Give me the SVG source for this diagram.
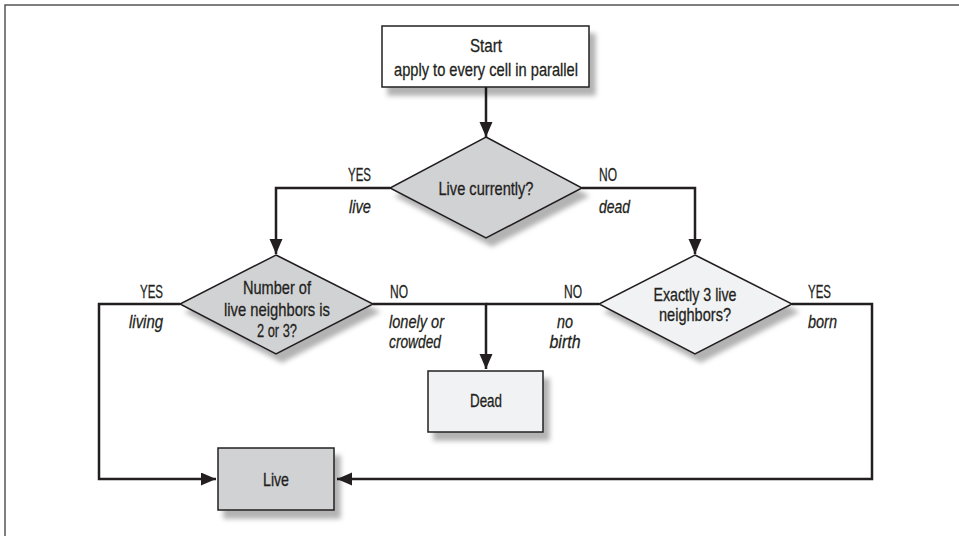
<svg xmlns="http://www.w3.org/2000/svg" width="959" height="536" viewBox="0 0 959 536">
<defs>
<style>
text{font-family:"Liberation Sans",Arial,sans-serif;font-size:18.5px;fill:#231f20;stroke:#231f20;stroke-width:0.3}
.c{text-anchor:middle}
.e{text-anchor:end}
.i{font-style:italic}
.box{stroke:#231f20;stroke-width:1.5}
.conn{fill:none;stroke:#231f20;stroke-width:2.5;stroke-linejoin:miter}
</style>
<filter id="sh" x="-20%" y="-20%" width="150%" height="160%">
<feGaussianBlur in="SourceAlpha" stdDeviation="2.5"/>
<feOffset dx="6" dy="8" result="b"/>
<feFlood flood-color="#000" flood-opacity="0.3"/>
<feComposite in2="b" operator="in"/>
<feMerge><feMergeNode/><feMergeNode in="SourceGraphic"/></feMerge>
</filter>
<marker id="ar" markerUnits="userSpaceOnUse" markerWidth="16" markerHeight="14" refX="15" refY="6.5" orient="auto">
<path d="M0,0 L15,6.5 L0,13 z" fill="#231f20"/>
</marker>
</defs>
<rect x="5" y="5" width="1000" height="1000" fill="#fff" stroke="#555" stroke-width="1.5"/>

<g id="connectors">
<path class="conn" d="M486,87 V137" marker-end="url(#ar)"/>
<path class="conn" d="M390,188 H276 V254" marker-end="url(#ar)"/>
<path class="conn" d="M582,188 H695 V254" marker-end="url(#ar)"/>
<path class="conn" d="M180,304 H99 V479 H216" marker-end="url(#ar)"/>
<path class="conn" d="M373,304 H486 V369" marker-end="url(#ar)"/>
<path class="conn" d="M599,304 H486"/>
<path class="conn" d="M792,304 H872 V479 H337" marker-end="url(#ar)"/>
<text x="371" y="181" class="e" textLength="23" lengthAdjust="spacingAndGlyphs">YES</text>
<text x="371" y="213" class="e i" textLength="22" lengthAdjust="spacingAndGlyphs">live</text>
<text x="599" y="181" textLength="18" lengthAdjust="spacingAndGlyphs">NO</text>
<text x="599" y="213" class="i" textLength="31" lengthAdjust="spacingAndGlyphs">dead</text>
<text x="163" y="298" class="e" textLength="23" lengthAdjust="spacingAndGlyphs">YES</text>
<text x="163" y="328" class="e i" textLength="34" lengthAdjust="spacingAndGlyphs">living</text>
<text x="390" y="298" textLength="18" lengthAdjust="spacingAndGlyphs">NO</text>
<text x="389" y="328" class="i" textLength="55" lengthAdjust="spacingAndGlyphs">lonely or</text>
<text x="389" y="348" class="i" textLength="52" lengthAdjust="spacingAndGlyphs">crowded</text>
<text x="582" y="298" class="e" textLength="18" lengthAdjust="spacingAndGlyphs">NO</text>
<text x="565" y="328" class="c i" textLength="16" lengthAdjust="spacingAndGlyphs">no</text>
<text x="565" y="348" class="c i" textLength="31" lengthAdjust="spacingAndGlyphs">birth</text>
<text x="808" y="298" textLength="23" lengthAdjust="spacingAndGlyphs">YES</text>
<text x="808" y="328" class="i" textLength="29" lengthAdjust="spacingAndGlyphs">born</text>
</g>

<g id="start">
<rect class="box" x="382" y="26" width="207" height="61" fill="#fff" filter="url(#sh)"/>
<text x="486" y="52" class="c" textLength="32" lengthAdjust="spacingAndGlyphs">Start</text>
<text x="486" y="76" class="c" textLength="184" lengthAdjust="spacingAndGlyphs">apply to every cell in parallel</text>
</g>

<g id="live-currently">
<polygon class="box" points="486,137 582,188 486,238 390,188" fill="#d1d2d4" filter="url(#sh)"/>
<text x="486" y="195" class="c" textLength="95" lengthAdjust="spacingAndGlyphs">Live currently?</text>
</g>

<g id="neighbors-2-3">
<polygon class="box" points="276,255 373,304 276,354 180,304" fill="#d1d2d4" filter="url(#sh)"/>
<text x="277" y="294" class="c" textLength="68" lengthAdjust="spacingAndGlyphs">Number of</text>
<text x="277" y="316" class="c" textLength="106" lengthAdjust="spacingAndGlyphs">live neighbors is</text>
<text x="277" y="337" class="c" textLength="40" lengthAdjust="spacingAndGlyphs">2 or 3?</text>
</g>

<g id="exactly-3">
<polygon class="box" points="695,255 792,304 695,354 599,304" fill="#f1f2f3" filter="url(#sh)"/>
<text x="695" y="301" class="c" textLength="83" lengthAdjust="spacingAndGlyphs">Exactly 3 live</text>
<text x="695" y="321" class="c" textLength="72" lengthAdjust="spacingAndGlyphs">neighbors?</text>
</g>

<g id="dead">
<rect class="box" x="428" y="371" width="115" height="61" fill="#f1f2f3" filter="url(#sh)"/>
<text x="486" y="407" class="c" textLength="32" lengthAdjust="spacingAndGlyphs">Dead</text>
</g>

<g id="live">
<rect class="box" x="218" y="448" width="116" height="62" fill="#d1d2d4" filter="url(#sh)"/>
<text x="276" y="486" class="c" textLength="26" lengthAdjust="spacingAndGlyphs">Live</text>
</g>
</svg>
